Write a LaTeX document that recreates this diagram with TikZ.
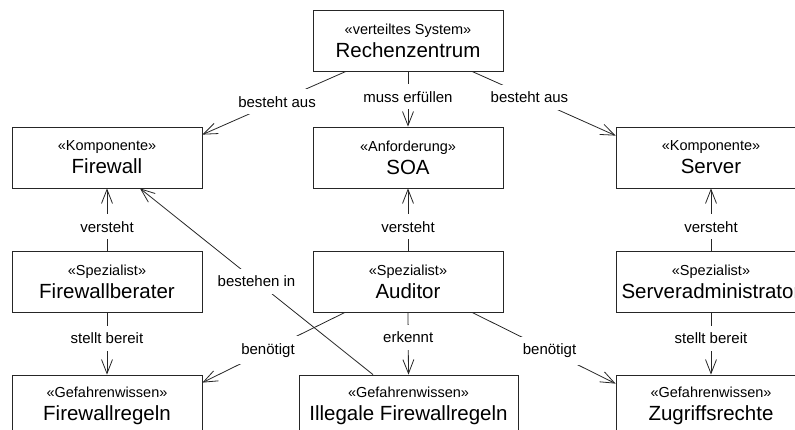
\documentclass[tikz,border=0pt]{standalone}
\usepackage{fontspec}
\setmainfont{Liberation Sans}
\usetikzlibrary{arrows.meta,calc}

% stereotype line above a class name
\newcommand\stlabel[1]{{\fontsize{14.5}{17}\selectfont «#1»}}

\tikzset{
  box/.style={draw=black!85, line width=0.8pt, rectangle, minimum width=190pt,
    minimum height=61pt, align=center, inner sep=4pt,
    font=\fontsize{20.5}{23}\selectfont},
  dep/.style={draw=black!85, line width=0.8pt,
    -{Straight Barb[length=14pt,width=11pt,line width=0.8pt]}},
  lbl/.style={fill=white, font=\fontsize{15}{17}\selectfont,
    inner xsep=4pt, inner ysep=7pt, text=black},
}

\begin{document}
\begin{tikzpicture}[x=1pt, y=-1pt]
\useasboundingbox (0,0) rectangle (795,430);
\clip (0,0) rectangle (795,430);

% classes
\node[box] (rz)   at (408,40.5)  {\stlabel{verteiltes System}\\Rechenzentrum};
\node[box] (fw)   at (107,157.5) {\stlabel{Komponente}\\Firewall};
\node[box] (soa)  at (408,157.5) {\stlabel{Anforderung}\\SOA};
\node[box] (srv)  at (711,157.5) {\stlabel{Komponente}\\Server};
\node[box] (fwb)  at (107,281.5) {\stlabel{Spezialist}\\Firewallberater};
\node[box] (aud)  at (408,281.5) {\stlabel{Spezialist}\\Auditor};
\node[box] (sadm) at (711,281.5) {\stlabel{Spezialist}\\Serveradministrator};
\node[box] (fwr)  at (107,405.5) {\stlabel{Gefahrenwissen}\\Firewallregeln};
\node[box, minimum width=219pt] (ill) at (408.5,405.5) {\stlabel{Gefahrenwissen}\\Illegale Firewallregeln};
\node[box] (zug)  at (711,405.5) {\stlabel{Gefahrenwissen}\\Zugriffsrechte};

% relations
\draw[dep] ([xshift=-62pt]rz.south) -- node[lbl, pos=0.48] {besteht aus} ([yshift=-8pt]fw.north east);
\draw[dep] (rz.south) -- node[lbl, pos=0.46] {muss erfüllen} (soa.north);
\draw[dep] ([xshift=64pt]rz.south) -- node[lbl, pos=0.40] {besteht aus} ([yshift=-9pt]srv.north west);

\draw[dep] (fwb.north) -- node[lbl, pos=0.38] {versteht} (fw.south);
\draw[dep] (aud.north) -- node[lbl, pos=0.38] {versteht} (soa.south);
\draw[dep] (sadm.north) -- node[lbl, pos=0.38] {versteht} (srv.south);

\draw[dep] (fwb.south) -- node[lbl, pos=0.42] {stellt bereit} (fwr.north);
\draw[dep] (sadm.south) -- node[lbl, pos=0.42] {stellt bereit} (zug.north);
\draw[dep] (aud.south) -- node[lbl, pos=0.40] {erkennt} (ill.north);

\draw[dep] ([xshift=-63pt]aud.south) -- node[lbl, pos=0.54] {benötigt} ([yshift=-8pt]fwr.north east);
\draw[dep] ([xshift=64pt]aud.south) -- node[lbl, pos=0.54] {benötigt} ([yshift=-9pt]zug.north west);

\draw[dep] ([xshift=-35.5pt]ill.north) -- node[lbl, pos=0.5] {bestehen in} ([xshift=33pt]fw.south);
\end{tikzpicture}
\end{document}
